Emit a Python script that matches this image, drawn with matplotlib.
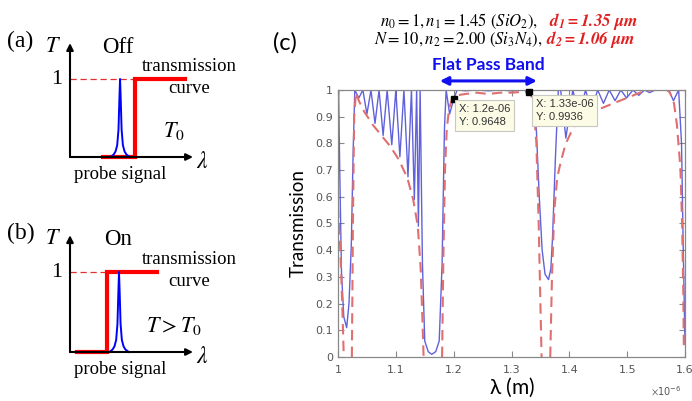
import numpy as np
import matplotlib
matplotlib.use("Agg")
import matplotlib.pyplot as plt
from matplotlib.ticker import FuncFormatter

plt.rcParams['mathtext.fontset'] = 'custom'
plt.rcParams['mathtext.rm'] = 'STIXGeneral'
plt.rcParams['mathtext.it'] = 'STIXGeneral:italic'
plt.rcParams['mathtext.bf'] = 'STIXGeneral:italic:bold'

# ---- stack spectrum (wavelength in um) ----
blue_wl = [1.000, 1.001, 1.003, 1.006, 1.010, 1.015, 1.019, 1.023, 1.026, 1.029,
           1.036, 1.043, 1.050, 1.057, 1.064, 1.071, 1.078, 1.085, 1.093, 1.100,
           1.107, 1.114, 1.121, 1.127, 1.132, 1.136, 1.139, 1.142,
           1.146, 1.150, 1.156, 1.162, 1.169, 1.175, 1.180, 1.184, 1.187, 1.193,
           1.200, 1.206, 1.22, 1.24, 1.26, 1.28, 1.30, 1.32, 1.330,
           1.338, 1.343, 1.348, 1.353, 1.358, 1.364, 1.368, 1.371, 1.376, 1.381,
           1.385, 1.394, 1.406, 1.417, 1.428, 1.438, 1.449, 1.459, 1.469, 1.479,
           1.489, 1.499, 1.510, 1.520, 1.530, 1.539, 1.548, 1.572, 1.580, 1.589,
           1.594, 1.597, 1.600]
blue_t = [0.95, 1.00, 0.70, 0.32, 0.15, 0.11, 0.20, 0.42, 0.75, 1.00,
          0.97, 1.00, 0.91, 1.00, 0.875, 1.00, 0.83, 1.00, 0.795, 1.00,
          0.75, 1.00, 0.675, 1.00, 0.59, 1.00, 0.49, 1.00,
          0.35, 0.06, 0.02, 0.01, 0.02, 0.06, 0.35, 0.85, 1.00, 0.91,
          0.9648, 1.00, 0.997, 1.00, 0.997, 1.00, 0.997, 1.00, 0.9936,
          0.97, 0.85, 0.60, 0.40, 0.31, 0.29, 0.33, 0.45, 0.75, 1.00,
          1.00, 0.82, 1.00, 0.905, 1.00, 0.925, 1.00, 0.95, 1.00, 0.96,
          1.00, 0.97, 1.00, 0.98, 1.00, 0.99, 1.00, 1.00, 0.96, 1.00,
          0.80, 0.40, 0.05]

# lower envelope, nan breaks at the stop bands
env_wl = [1.000, 1.004, 1.007, 1.010, np.nan,
          1.024, 1.026, 1.028, 1.031, 1.036, 1.045, 1.060, 1.075, 1.090, 1.105,
          1.120, 1.130, 1.138, 1.143, 1.146, 1.148, np.nan,
          1.180, 1.182, 1.185, 1.188, 1.192, 1.197, 1.205, 1.22, 1.24, 1.26,
          1.28, 1.30, 1.32, 1.333, 1.338, 1.343, 1.347, 1.350, 1.352, np.nan,
          1.367, 1.370, 1.374, 1.379, 1.384, 1.390, 1.394, 1.407, 1.424, 1.448,
          1.476, 1.505, 1.528, 1.545, 1.569, 1.574, 1.581, 1.586, 1.592, 1.595,
          1.597, 1.598]
env_t = [0.56, 0.40, 0.22, 0.00, np.nan,
         0.00, 0.55, 0.90, 0.99, 0.96, 0.92, 0.87, 0.83, 0.79, 0.74,
         0.67, 0.59, 0.49, 0.33, 0.14, 0.00, np.nan,
         0.00, 0.35, 0.70, 0.85, 0.93, 0.965, 0.98, 0.985, 0.99, 0.985,
         0.99, 0.99, 0.993, 0.99, 0.95, 0.80, 0.50, 0.20, 0.00, np.nan,
         0.00, 0.30, 0.55, 0.67, 0.72, 0.77, 0.80, 0.86, 0.90, 0.925,
         0.95, 0.975, 0.995, 1.00, 1.00, 0.99, 0.95, 0.87, 0.71, 0.50,
         0.25, 0.03]

tips = [(1.2, 0.9648), (1.33, 0.9936)]
band_edges = (1.176, 1.344)

# ---- schematic (a)/(b) ----
a_step_wl = [2.54, 5.0, 5.0, 8.85]
b_step_wl = [0.54, 2.85, 2.85, 6.7]
step_t = [0, 0, 1, 1]
probe_dwl = [-0.75, -0.5, -0.35, -0.22, -0.12, -0.05, 0, 0.05, 0.12, 0.22, 0.35, 0.5, 0.75]
probe_t = [0.0, 0.03, 0.07, 0.15, 0.35, 0.75, 1.0, 0.75, 0.35, 0.15, 0.07, 0.03, 0.0]
a_probe_c = 3.85
b_probe_c = 3.77

W, H = 692, 401
fig = plt.figure(figsize=(W / 100, H / 100), dpi=100)


def px_axes(x0, y0, x1, y1):
    return fig.add_axes([x0 / W, 1 - y1 / H, (x1 - x0) / W, (y1 - y0) / H])


serif = 'Liberation Serif'


def sketch(ax, step_wl, probe_c, state, tlabel, tag):
    ax.set_xlim(0, 10)
    ax.set_ylim(0, 1.5)
    ax.axis('off')
    for end in [(9.46, 0), (0, 1.46)]:
        ax.annotate('', xy=end, xytext=(0, 0),
                    arrowprops=dict(arrowstyle='-|>', color='k', lw=1.5,
                                    mutation_scale=10, shrinkA=0, shrinkB=0),
                    annotation_clip=False)
    ax.plot([0, step_wl[1]], [1, 1], color='#e03030', lw=0.9, dashes=(5, 3))
    ax.plot(step_wl, step_t, color='#ff0000', lw=3, solid_joinstyle='miter', clip_on=False)
    ax.plot(np.array(probe_dwl) + probe_c, probe_t, color='#0000ff', lw=1.4, clip_on=False)
    ax.text(-1.3, 1.42, '$T$', fontsize=16, ha='center', va='center')
    ax.text(3.7, 1.40, state, fontsize=16.5, family=serif, ha='center', va='center')
    ax.text(-1.0, 0.99, '1', fontsize=16, family=serif, ha='center', va='center')
    ax.text(9.2, 1.16, 'transmission', fontsize=13.5, family=serif, ha='center', va='center')
    ax.text(9.2, 0.88, 'curve', fontsize=13.5, family=serif, ha='center', va='center')
    ax.text(8.0, 0.33, tlabel, fontsize=16, ha='center', va='center')
    ax.text(10.2, -0.05, r'$\lambda$', fontsize=17, ha='center', va='center')
    ax.text(3.85, -0.22, 'probe signal', fontsize=13.5, family=serif, ha='center', va='center')
    ax.text(-3.8, 1.48, tag, fontsize=17, family=serif, ha='center', va='center')


sketch(px_axes(70, 40, 200, 157), a_step_wl, a_probe_c, 'Off', '$T_0$', '(a)')
sketch(px_axes(70, 232, 200, 352), b_step_wl, b_probe_c, 'On', '$T > T_0$', '(b)')

# ---- panel (c) ----
ax = px_axes(338, 90, 685, 357)
ax.plot(blue_wl, blue_t, color='#5050d8', lw=1.0, alpha=0.9)
ax.plot(env_wl, env_t, color='#e07070', lw=1.5, dashes=(5, 3))
ax.set_xlim(1.0, 1.6)
ax.set_ylim(0, 1)
ax.set_xticks(np.arange(1.0, 1.61, 0.1))
ax.set_yticks(np.arange(0, 1.01, 0.1))
ax.xaxis.set_major_formatter(FuncFormatter(lambda v, p: '%g' % round(v, 2)))
ax.yaxis.set_major_formatter(FuncFormatter(lambda v, p: '%g' % round(v, 2)))
ax.tick_params(direction='in', top=True, right=True, length=4, width=0.8,
               colors='#888888', labelcolor='#555555', labelsize=8)
ax.tick_params(axis='x', pad=6)
for s in ax.spines.values():
    s.set_color('#888888')
    s.set_linewidth(0.9)
ax.set_ylabel('Transmission', family='Lato', fontsize=13.5, labelpad=6)
ax.set_xlabel(r'$\mathregular{\lambda}$ (m)', family='Lato', fontsize=15, labelpad=0)
ax.text(0.99, -0.105, r'$\times\mathregular{10^{-6}}$', transform=ax.transAxes,
        fontsize=7, color='#555555', ha='right', va='top')

for (tx, ty), (bx, by) in zip(tips, [(1.209, 0.947), (1.342, 0.968)]):
    ax.plot(tx, ty, 's', color='k', ms=5, clip_on=False, zorder=5)
    ax.text(bx, by, 'X: %.3g' % (tx * 1e-6) + '\nY: %.4f' % ty, fontsize=8,
            family='Liberation Sans', color='#333333', ha='left', va='top',
            linespacing=1.4, zorder=6,
            bbox=dict(boxstyle='square,pad=0.35', fc='#fbfbe6', ec='#c8c8c0', lw=0.8))

blue = '#1010f0'
ax.annotate('', xy=(band_edges[0], 1.034), xytext=(band_edges[1], 1.034),
            arrowprops=dict(arrowstyle='<|-|>', color=blue, lw=2.2, mutation_scale=12,
                            shrinkA=0, shrinkB=0),
            annotation_clip=False)
ax.text(sum(band_edges) / 2, 1.094, 'Flat Pass Band', color=blue, family='Lato',
        weight='bold', fontsize=12.5, ha='center', va='center')

fig.text(285 / W, 1 - 43 / H, '(c)', family='Lato', fontsize=17, ha='center', va='center')
fig.text(538 / W, 1 - 21 / H, r'$n_0 = 1, n_1 = 1.45\ (SiO_2),$', fontsize=12,
         ha='right', va='center')
fig.text(549 / W, 1 - 21 / H, r'$\mathbf{d_1 = 1.35\ \mu m}$', fontsize=12.5,
         color='#e02020', ha='left', va='center')
fig.text(543 / W, 1 - 40 / H, r'$N = 10, n_2 = 2.00\ (Si_3N_4),$', fontsize=12,
         ha='right', va='center')
fig.text(546 / W, 1 - 40 / H, r'$\mathbf{d_2 = 1.06\ \mu m}$', fontsize=12.5,
         color='#e02020', ha='left', va='center')

fig.savefig('out.png', dpi=100)
